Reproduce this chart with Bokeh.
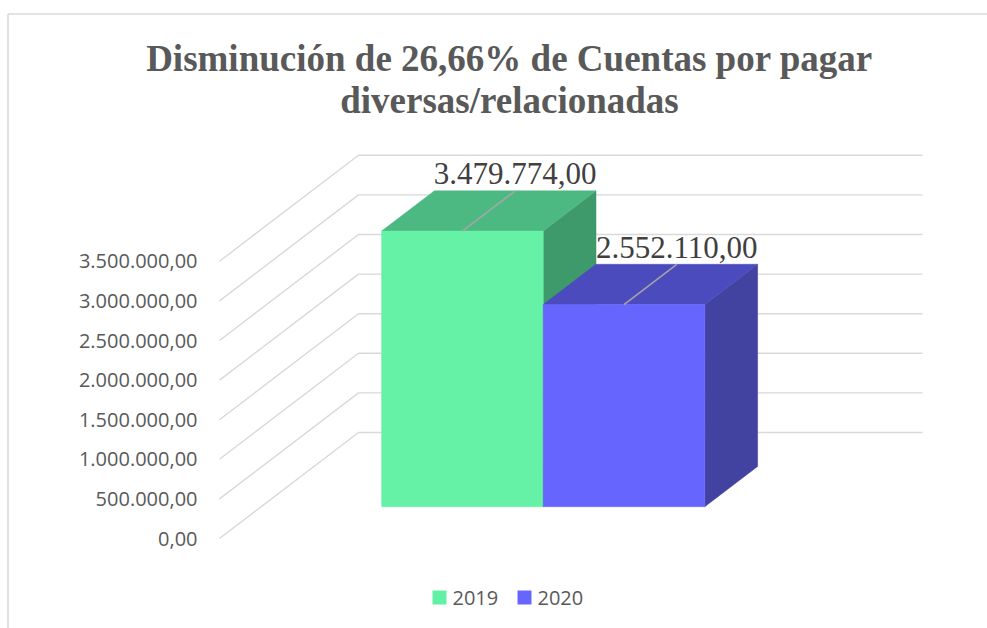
from bokeh.plotting import figure
from bokeh.models import Range1d
from bokeh.core.properties import value
from bokeh.embed import file_html
from bokeh.resources import INLINE

# ---------------- data ----------------
title_lines = ["Disminución de 26,66% de Cuentas por pagar", "diversas/relacionadas"]
series = ["2019", "2020"]
values = [3479774.00, 2552110.00]
ticks = [0, 500000, 1000000, 1500000, 2000000, 2500000, 3000000, 3500000]

front_colors = ["#66F2A6", "#6666FF"]
top_colors = ["#4DB982", "#4B4BBE"]
side_colors = ["#3E996B", "#4242A0"]
legend_colors = ["#62F0A4", "#6666FF"]


def es_fmt(v):
    s = f"{v:,.2f}"
    return s.replace(",", "X").replace(".", ",").replace("X", ".")


tick_labels = [es_fmt(t) for t in ticks]
value_labels = [es_fmt(v) for v in values]

# ---------------- layout ----------------
W, H = 987, 628
OX, OY = 0, 0                 # canvas origin on the page
CAT_W_PX = 564                # width of the category band on the front plane
CAT_CX_PX = 501               # centre of category (image px)
ZERO_Y_PX = 538               # value 0 on the front plane (image px)
PX_PER_VAL = 39.6 / 500000    # vertical px per unit value
WALL_DX_PX, WALL_DY_PX = 139, 106   # depth of the 3D box

def X(px):
    return (px - CAT_CX_PX) / CAT_W_PX

def Y(py):
    return (ZERO_Y_PX - py) / PX_PER_VAL

DX = WALL_DX_PX / CAT_W_PX
DY = WALL_DY_PX / PX_PER_VAL

GROUP_W = 0.573
BAR_W = GROUP_W / len(values)
D_FRONT, D_BACK = 0.30, 0.68

p = figure(width=W, height=H, output_backend="svg", toolbar_location=None,
           x_range=Range1d(X(OX), X(OX + W)), y_range=Range1d(Y(OY + H), Y(OY)),
           min_border=0, outline_line_color=None,
           background_fill_color="white", border_fill_color="white")
p.axis.visible = False
p.grid.visible = False

# chart border (left and top only visible)
p.line([X(7.5), X(7.5)], [Y(OY + H), Y(13.5)], line_color="#d9d9d9", line_width=1.5)
p.line([X(7.5), X(OX + W)], [Y(13.5), Y(13.5)], line_color="#d9d9d9", line_width=1.5)

# gridlines: oblique side wall + back wall
gx, gy = [], []
for t in ticks:
    gx.append([-0.5, -0.5 + DX, 0.5 + DX])
    gy.append([t, t + DY, t + DY])
p.multi_line(gx, gy, line_color="#d9d9d9", line_width=1.4)

# tick labels
p.text(x=[-0.5 - 22 / CAT_W_PX] * len(ticks), y=ticks, text=tick_labels,
       text_font=value("Open Sans"), text_font_size="20px", text_color="#595959",
       text_align="right", text_baseline="middle")

# 3D bars
sfx, sfy = D_FRONT * DX, D_FRONT * DY
sbx, sby = D_BACK * DX, D_BACK * DY
for i, v in enumerate(values):
    x0 = -GROUP_W / 2 + i * BAR_W
    x1 = x0 + BAR_W
    # right side face
    p.patch([x1 + sfx, x1 + sbx, x1 + sbx, x1 + sfx],
            [sfy, sby, v + sby, v + sfy],
            fill_color=side_colors[i], line_color=side_colors[i], line_width=0.5)
    # top face
    p.patch([x0 + sfx, x1 + sfx, x1 + sbx, x0 + sbx],
            [v + sfy, v + sfy, v + sby, v + sby],
            fill_color=top_colors[i], line_color=top_colors[i], line_width=0.5)
    # front face
    p.patch([x0 + sfx, x1 + sfx, x1 + sfx, x0 + sfx],
            [sfy, sfy, v + sfy, v + sfy],
            fill_color=front_colors[i], line_color=front_colors[i], line_width=0.5)
    # leader line and value label
    cx = (x0 + x1) / 2
    lx0, ly0 = cx + sfx, v + sfy
    lx1, ly1 = cx + sbx, v + sby
    p.line([lx0, lx1], [ly0, ly1], line_color="#a6a6a6", line_width=1.5)
    p.text(x=[lx1], y=[ly1], text=[value_labels[i]], y_offset=-17,
           text_font=value("Liberation Serif"), text_font_size="31px",
           text_color="#404040", text_align="center", text_baseline="alphabetic")

# title
p.text(x=[X(509)] * 2, y=[Y(58), Y(100)], text=title_lines,
       text_font=value("Liberation Serif"), text_font_size="37px",
       text_font_style="bold", text_color="#595959",
       text_align="center", text_baseline="middle")

# legend
leg_x = [X(439), X(524)]
leg_y = [Y(597)] * 2
p.rect(x=leg_x, y=leg_y, width=14, height=14, width_units="screen",
       height_units="screen", fill_color=legend_colors, line_color=None)
p.text(x=leg_x, y=leg_y, text=series, x_offset=13,
       text_font=value("Open Sans"), text_font_size="20px", text_color="#595959",
       text_align="left", text_baseline="middle")

open("out.html", "w").write(file_html(p, INLINE))
